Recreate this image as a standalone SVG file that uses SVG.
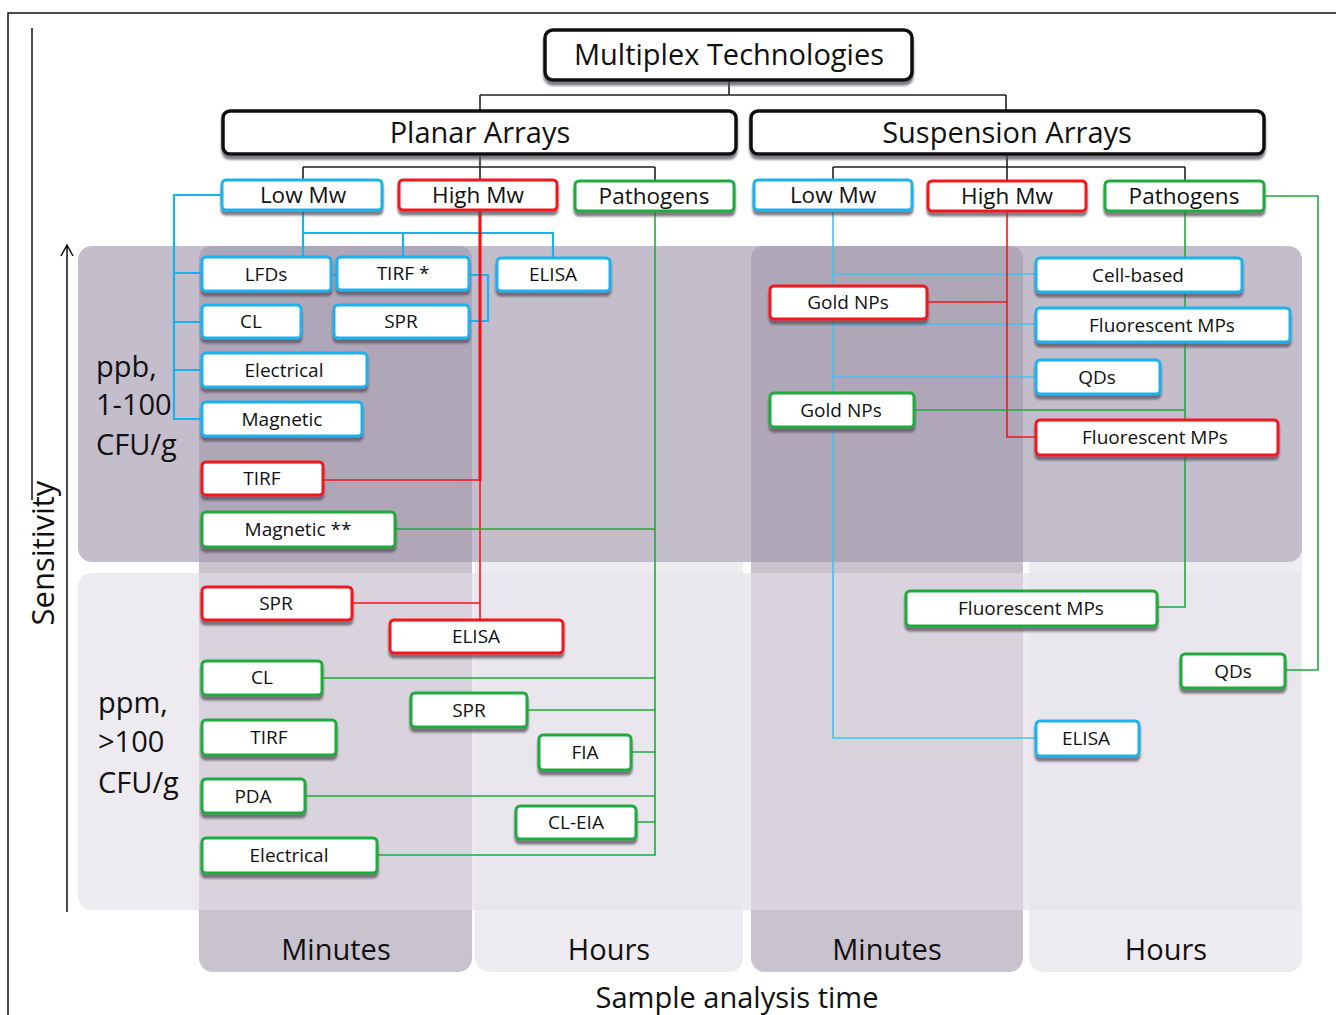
<svg xmlns="http://www.w3.org/2000/svg" width="1336" height="1015" viewBox="0 0 1336 1015">
  <style>
    text { font-family: "Open Sans", "Liberation Sans", sans-serif; fill: #111; text-anchor: middle; }
    .big { font-size: 29px; }
    .hdr { font-size: 22.5px; }
    .sm { font-size: 19px; }
    .axis { font-size: 29px; text-anchor: start; }
    .box { fill: #fff; stroke-width: 3; filter: url(#shadow); }
    .blk { stroke: #111; stroke-width: 3.5; }
    .blue { stroke: #1ab2ee; }
    .red { stroke: #f5141b; }
    .green { stroke: #1fab3e; }
    .ln { fill: none; stroke-width: 1.6; }
    .w2 { stroke-width: 2.2; }
    .w3 { stroke-width: 3.2; }
    .lk { stroke: #222; }
    .lb { stroke: #1ab2ee; }
    .lbs { stroke: #40c4f2; }
    .lr { stroke: #f5141b; }
    .lg { stroke: #1fab3e; }
  </style>
  <defs>
    <filter id="shadow" x="-10%" y="-20%" width="120%" height="160%">
      <feDropShadow dx="0" dy="4" stdDeviation="1.2" flood-color="#56505c" flood-opacity="0.75"/>
    </filter>
  </defs>

  <rect width="1336" height="1015" fill="#fff"/>

  <!-- frame -->
  <g id="frame" fill="none" stroke="#111" stroke-width="1.5">
    <path d="M8 1015 V13 H1336"/>
    <path d="M32 28 V500"/>
  </g>

  <!-- background: time columns and sensitivity rows -->
  <g id="bands">
    <rect x="199" y="246" width="273" height="726" rx="14" fill="#c9c3cf"/>
    <rect x="475" y="246" width="268" height="726" rx="14" fill="#eeecf1"/>
    <rect x="751" y="246" width="272" height="726" rx="14" fill="#c9c3cf"/>
    <rect x="1029" y="246" width="273" height="726" rx="14" fill="#eeecf1"/>
    <rect x="78" y="246" width="1224" height="316" rx="14" fill="#c4bdcb"/>
    <rect x="78" y="573" width="1222" height="337" rx="14" fill="#edebf0"/>
    <path d="M213 246 H458 Q472 246 472 260 V562 H199 V260 Q199 246 213 246 Z" fill="#afa6b8"/>
    <path d="M765 246 H1009 Q1023 246 1023 260 V562 H751 V260 Q751 246 765 246 Z" fill="#afa6b8"/>
    <rect x="199" y="573" width="273" height="337" fill="#d8d3dd"/>
    <rect x="751" y="573" width="272" height="337" fill="#d8d3dd"/>
    <rect x="475" y="573" width="268" height="337" fill="#e9e6ed"/>
    <rect x="1029" y="573" width="271" height="337" fill="#e9e6ed"/>
  </g>

  <!-- axis labels -->
  <g id="axes">
    <path d="M67 912 V245 M61 256 L67 245 L73 256" fill="none" stroke="#111" stroke-width="1.5"/>
    <text transform="translate(54 553) rotate(-90)" style="font-size:31px">Sensitivity</text>
    <text class="axis" x="96" y="377">ppb,</text>
    <text class="axis" x="96" y="415">1-100</text>
    <text class="axis" x="96" y="455">CFU/g</text>
    <text class="axis" x="98" y="713">ppm,</text>
    <text class="axis" x="98" y="752">&gt;100</text>
    <text class="axis" x="98" y="793">CFU/g</text>
    <text class="big" x="336" y="960">Minutes</text>
    <text class="big" x="609" y="960">Hours</text>
    <text class="big" x="887" y="960">Minutes</text>
    <text class="big" x="1166" y="960">Hours</text>
    <text class="big" x="737" y="1008">Sample analysis time</text>
  </g>

  <!-- connectors -->
  <g id="connectors">
    <path class="ln lk" d="M729 80 V95 M480 95 H1006 M480 95 V111 M1006 95 V111"/>
    <path class="ln lk" d="M480 154 V180 M303 167 H655 M303 167 V180 M655 167 V181"/>
    <path class="ln lk" d="M1007 154 V181 M833 167 H1185 M833 167 V180 M1185 167 V181"/>

    <path class="ln w2 lb" d="M222 195 H174 V419 H202 M174 273 H202 M174 322 H202 M174 370 H202"/>
    <path class="ln w2 lb" d="M303 210 V257 M303 233 H553 V258 M403 233 V257"/>
    <path class="ln w2 lb" d="M469 275 H488 V321 H469 M331 275 H337"/>

    <path class="ln w3 lr" d="M480 210 V481"/>
    <path class="ln lr" d="M323 480 H480 V620 M352 603 H480"/>

    <path class="ln lg" d="M655 211 V855 H377 M395 529 H655 M322 678 H655 M527 710 H655 M631 752 H655 M305 796 H655 M636 822 H655"/>

    <path class="ln lbs" d="M833 210 V738 H1036 M833 274 H1036 M833 324 H1036 M833 377 H1036"/>
    <path class="ln lr" d="M1007 210 V437 H1036 M927 302 H1007"/>
    <path class="ln lg" d="M1185 211 V607 H1157 M914 410 H1185 M1264 196 H1318 V670 H1285"/>
  </g>

  <!-- hierarchy headers -->
  <g id="n-root"><rect class="box blk" x="545" y="30" width="367" height="50" rx="8"/><text class="big" x="729" y="65">Multiplex Technologies</text></g>
  <g id="n-planar"><rect class="box blk" x="223" y="111" width="513" height="43" rx="7"/><text class="big" x="480" y="143">Planar Arrays</text></g>
  <g id="n-suspension"><rect class="box blk" x="751" y="111" width="513" height="43" rx="7"/><text class="big" x="1007" y="143">Suspension Arrays</text></g>

  <g id="p-low"><rect class="box blue" x="222" y="180" width="160" height="30" rx="4"/><text class="hdr" x="303" y="203">Low Mw</text></g>
  <g id="p-high"><rect class="box red" x="399" y="180" width="158" height="30" rx="4"/><text class="hdr" x="478" y="203">High Mw</text></g>
  <g id="p-path"><rect class="box green" x="575" y="181" width="159" height="30" rx="4"/><text class="hdr" x="654" y="204">Pathogens</text></g>
  <g id="s-low"><rect class="box blue" x="754" y="180" width="158" height="30" rx="4"/><text class="hdr" x="833" y="203">Low Mw</text></g>
  <g id="s-high"><rect class="box red" x="928" y="181" width="158" height="30" rx="4"/><text class="hdr" x="1007" y="204">High Mw</text></g>
  <g id="s-path"><rect class="box green" x="1105" y="181" width="159" height="30" rx="4"/><text class="hdr" x="1184" y="204">Pathogens</text></g>

  <!-- planar, low Mw -->
  <g id="p-lfds"><rect class="box blue" x="202" y="257" width="129" height="34" rx="4"/><text class="sm" x="266" y="281">LFDs</text></g>
  <g id="p-tirf-star"><rect class="box blue" x="337" y="257" width="132" height="33" rx="4"/><text class="sm" x="403" y="280">TIRF *</text></g>
  <g id="p-elisa-low"><rect class="box blue" x="497" y="258" width="113" height="33" rx="4"/><text class="sm" x="553" y="281">ELISA</text></g>
  <g id="p-cl-low"><rect class="box blue" x="202" y="305" width="99" height="33" rx="4"/><text class="sm" x="251" y="328">CL</text></g>
  <g id="p-spr-low"><rect class="box blue" x="334" y="305" width="135" height="33" rx="4"/><text class="sm" x="401" y="328">SPR</text></g>
  <g id="p-elec-low"><rect class="box blue" x="202" y="353" width="165" height="34" rx="4"/><text class="sm" x="284" y="377">Electrical</text></g>
  <g id="p-mag-low"><rect class="box blue" x="202" y="402" width="160" height="34" rx="4"/><text class="sm" x="282" y="426">Magnetic</text></g>

  <!-- planar, high Mw -->
  <g id="p-tirf-high"><rect class="box red" x="202" y="462" width="121" height="33" rx="4"/><text class="sm" x="262" y="485">TIRF</text></g>
  <g id="p-spr-high"><rect class="box red" x="202" y="587" width="150" height="33" rx="4"/><text class="sm" x="276" y="610">SPR</text></g>
  <g id="p-elisa-high"><rect class="box red" x="390" y="620" width="173" height="33" rx="4"/><text class="sm" x="476" y="643">ELISA</text></g>

  <!-- planar, pathogens -->
  <g id="p-mag-path"><rect class="box green" x="202" y="512" width="193" height="35" rx="4"/><text class="sm" x="298" y="536">Magnetic **</text></g>
  <g id="p-cl-path"><rect class="box green" x="202" y="661" width="120" height="34" rx="4"/><text class="sm" x="262" y="684">CL</text></g>
  <g id="p-spr-path"><rect class="box green" x="411" y="693" width="116" height="34" rx="4"/><text class="sm" x="469" y="717">SPR</text></g>
  <g id="p-tirf-path"><rect class="box green" x="202" y="720" width="134" height="35" rx="4"/><text class="sm" x="269" y="744">TIRF</text></g>
  <g id="p-fia"><rect class="box green" x="539" y="735" width="92" height="35" rx="4"/><text class="sm" x="585" y="759">FIA</text></g>
  <g id="p-pda"><rect class="box green" x="202" y="779" width="103" height="34" rx="4"/><text class="sm" x="253" y="803">PDA</text></g>
  <g id="p-cleia"><rect class="box green" x="516" y="806" width="120" height="33" rx="4"/><text class="sm" x="576" y="829">CL-EIA</text></g>
  <g id="p-elec-path"><rect class="box green" x="202" y="838" width="175" height="35" rx="4"/><text class="sm" x="289" y="862">Electrical</text></g>

  <!-- suspension -->
  <g id="s-cell"><rect class="box blue" x="1036" y="258" width="206" height="34" rx="4"/><text class="sm" x="1138" y="282">Cell-based</text></g>
  <g id="s-fmp-low"><rect class="box blue" x="1036" y="308" width="254" height="34" rx="4"/><text class="sm" x="1162" y="332">Fluorescent MPs</text></g>
  <g id="s-qds-low"><rect class="box blue" x="1036" y="360" width="124" height="34" rx="4"/><text class="sm" x="1097" y="384">QDs</text></g>
  <g id="s-elisa-low"><rect class="box blue" x="1036" y="721" width="103" height="35" rx="4"/><text class="sm" x="1086" y="745">ELISA</text></g>
  <g id="s-gold-high"><rect class="box red" x="770" y="286" width="157" height="33" rx="4"/><text class="sm" x="848" y="309">Gold NPs</text></g>
  <g id="s-fmp-high"><rect class="box red" x="1036" y="420" width="242" height="35" rx="4"/><text class="sm" x="1155" y="444">Fluorescent MPs</text></g>
  <g id="s-gold-path"><rect class="box green" x="770" y="393" width="144" height="34" rx="4"/><text class="sm" x="841" y="417">Gold NPs</text></g>
  <g id="s-fmp-path"><rect class="box green" x="906" y="591" width="251" height="35" rx="4"/><text class="sm" x="1031" y="615">Fluorescent MPs</text></g>
  <g id="s-qds-path"><rect class="box green" x="1181" y="654" width="104" height="34" rx="4"/><text class="sm" x="1233" y="678">QDs</text></g>
</svg>
